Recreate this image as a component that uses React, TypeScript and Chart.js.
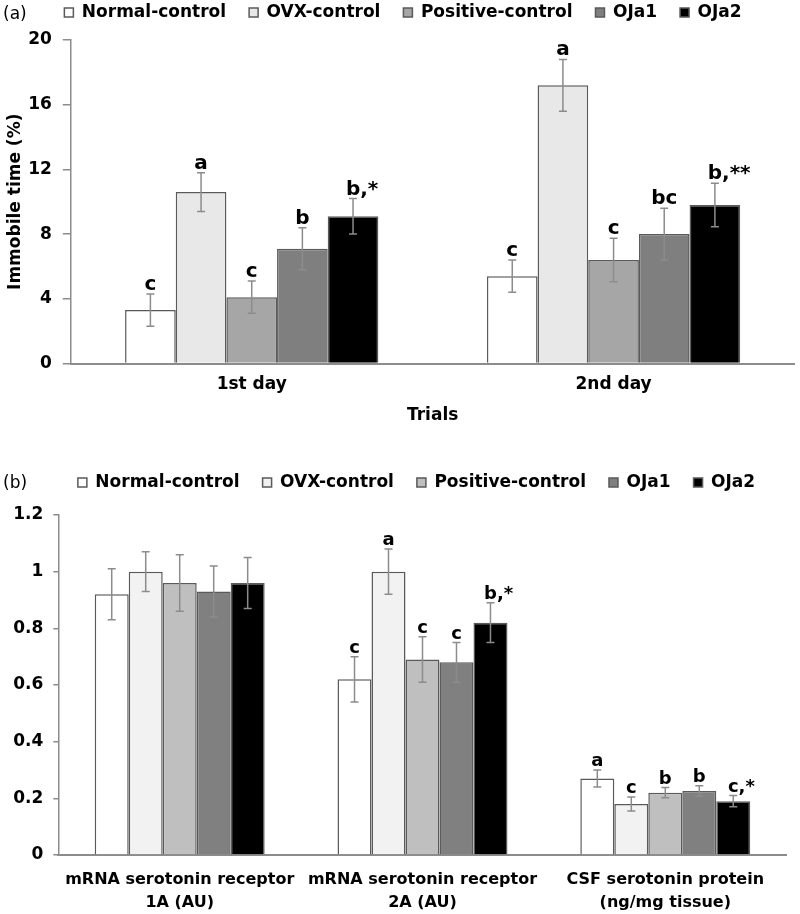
import React, { useEffect, useRef } from 'react';
import { Chart, registerables } from 'chart.js';
Chart.register(...registerables);

const FONT = "'DejaVu Sans', sans-serif";

// ---------- data ----------
const groupNames = ['Normal-control', 'OVX-control', 'Positive-control', 'OJa1', 'OJa2'];

// Panel (a)
const trialCategories = ['1st day', '2nd day'];
const immobileNormal = [3.3, 5.4];
const immobileOVX = [10.6, 17.2];
const immobilePositive = [4.1, 6.4];
const immobileOJa1 = [7.1, 8.0];
const immobileOJa2 = [9.1, 9.8];
const immobileErrNormal = [1.0, 1.0];
const immobileErrOVX = [1.2, 1.6];
const immobileErrPositive = [1.0, 1.35];
const immobileErrOJa1 = [1.3, 1.6];
const immobileErrOJa2 = [1.1, 1.35];
const immobileLetNormal = ['c', 'c'];
const immobileLetOVX = ['a', 'a'];
const immobileLetPositive = ['c', 'c'];
const immobileLetOJa1 = ['b', 'bc'];
const immobileLetOJa2 = ['b,*', 'b,**'];
const immobileTicks = { min: 0, max: 20, step: 4 };

// Panel (b)
const serotoninCategories = [
  ['mRNA serotonin receptor', '1A (AU)'],
  ['mRNA serotonin receptor', '2A (AU)'],
  ['CSF serotonin protein', '(ng/mg tissue)'],
];
const serNormal = [0.92, 0.62, 0.27];
const serOVX = [1.0, 1.0, 0.18];
const serPositive = [0.96, 0.69, 0.22];
const serOJa1 = [0.93, 0.68, 0.226];
const serOJa2 = [0.96, 0.82, 0.19];
const serErrNormal = [0.09, 0.08, 0.03];
const serErrOVX = [0.07, 0.08, 0.025];
const serErrPositive = [0.1, 0.08, 0.018];
const serErrOJa1 = [0.09, 0.07, 0.018];
const serErrOJa2 = [0.09, 0.07, 0.02];
const serLetNormal = ['', 'c', 'a'];
const serLetOVX = ['', 'a', 'c'];
const serLetPositive = ['', 'c', 'b'];
const serLetOJa1 = ['', 'c', 'b'];
const serLetOJa2 = ['', 'b,*', 'c,*'];
const serTicks = { min: 0, max: 1.2, step: 0.2 };

const colorsA = ['#ffffff', '#e8e8e8', '#a6a6a6', '#7f7f7f', '#000000'];
const colorsB = ['#ffffff', '#f2f2f2', '#bfbfbf', '#808080', '#000000'];

// ---------- plugin: error bars + letters ----------
const errorBarPlugin = {
  id: 'errorBars',
  afterDatasetsDraw(chart: any, _args: any, opts: any) {
    const ctx = chart.ctx;
    const yScale = chart.scales.y;
    chart.data.datasets.forEach((ds: any, i: number) => {
      const meta = chart.getDatasetMeta(i);
      meta.data.forEach((bar: any, j: number) => {
        const v = ds.data[j];
        const e = ds.errors[j];
        const yt = yScale.getPixelForValue(v + e);
        const yb = yScale.getPixelForValue(v - e);
        ctx.save();
        ctx.strokeStyle = '#8c8c8c';
        ctx.lineWidth = 1.5;
        ctx.beginPath();
        ctx.moveTo(bar.x, yt);
        ctx.lineTo(bar.x, yb);
        ctx.moveTo(bar.x - 4, yt);
        ctx.lineTo(bar.x + 4, yt);
        ctx.moveTo(bar.x - 4, yb);
        ctx.lineTo(bar.x + 4, yb);
        ctx.stroke();
        const letter: string = ds.letters[j];
        if (letter) {
          ctx.fillStyle = '#000';
          ctx.font = `bold ${opts.letterSize}px ${FONT}`;
          ctx.textBaseline = 'alphabetic';
          ctx.textAlign = 'left';
          const main = letter.split(',')[0];
          const w0 = ctx.measureText(main).width;
          ctx.fillText(letter, bar.x - w0 / 2, yt - 4);
        }
        ctx.restore();
      });
    });
  },
};

// sets the legend box height so that the plot starts at the wanted distance below it
const legendHeightPlugin = (h: number) => ({
  id: 'legendHeight',
  beforeInit(chart: any) {
    const legend = chart.legend;
    if (!legend) return;
    const fit = legend.fit;
    legend.fit = function () {
      fit.call(this);
      this.height = h;
    };
  },
});

function makeDatasets(values: number[][], errors: number[][], letters: string[][], colors: string[]) {
  return groupNames.map((name, i) => ({
    label: name,
    data: values[i],
    errors: errors[i],
    letters: letters[i],
    backgroundColor: colors[i],
    borderColor: '#5a5a5a',
    borderWidth: 1.5,
    categoryPercentage: 0.7,
    barPercentage: 1.0,
  }));
}

const tickFont = { family: FONT, size: 17, weight: 'bold' as const };

// Page geometry
const A_TOP = -19;
const A_PLOT_TOP = 40;
const A_PLOT_BOTTOM = 363.5;
const A_BOTTOM = 440;
const A_WIDTH = 806;
const B_TOP = 451;
const B_PLOT_TOP = 515;
const B_PLOT_BOTTOM = 855;
const B_BOTTOM = 914;
const B_WIDTH = 833;

function ChartA() {
  const ref = useRef<HTMLCanvasElement>(null);
  useEffect(() => {
    const chart = new Chart(ref.current!, {
      type: 'bar',
      data: {
        labels: trialCategories,
        datasets: makeDatasets(
          [immobileNormal, immobileOVX, immobilePositive, immobileOJa1, immobileOJa2],
          [immobileErrNormal, immobileErrOVX, immobileErrPositive, immobileErrOJa1, immobileErrOJa2],
          [immobileLetNormal, immobileLetOVX, immobileLetPositive, immobileLetOJa1, immobileLetOJa2],
          colorsA
        ) as any,
      },
      options: {
        animation: false,
        responsive: true,
        maintainAspectRatio: false,
        layout: { padding: 0 },
        plugins: {
          legend: {
            position: 'top',
            labels: { font: tickFont, color: '#000', boxWidth: 9, boxHeight: 9, padding: 23 },
          },
          tooltip: { enabled: false },
          errorBars: { letterSize: 20 },
        } as any,
        scales: {
          x: {
            grid: { display: false, drawTicks: false },
            border: { display: true, color: '#8c8c8c', width: 2 },
            ticks: { font: tickFont, color: '#000', padding: 11, maxRotation: 0, autoSkip: false },
            title: { display: true, text: 'Trials', font: tickFont, color: '#000', padding: { top: 0, bottom: 14 } },
            afterFit: (s: any) => {
              s.height = A_BOTTOM - A_PLOT_BOTTOM;
              s.paddingRight = A_WIDTH - 794.5;
              s.paddingLeft = 0;
            },
          },
          y: {
            min: immobileTicks.min,
            max: immobileTicks.max,
            ticks: { stepSize: immobileTicks.step, font: tickFont, color: '#000', padding: 11 },
            grid: { display: true, drawOnChartArea: false, drawTicks: true, tickLength: 8, color: '#8c8c8c', lineWidth: 1.5 },
            border: { display: true, color: '#8c8c8c', width: 1.5 },
            title: { display: true, text: 'Immobile time (%)', font: tickFont, color: '#000', padding: { top: 5, bottom: 0 } },
            afterFit: (s: any) => {
              s.width = 70.8;
              s.paddingTop = 0;
            },
          },
        },
      },
      plugins: [errorBarPlugin, legendHeightPlugin(A_PLOT_TOP - A_TOP)],
    });
    return () => chart.destroy();
  }, []);
  return (
    <div style={{ position: 'absolute', left: 0, top: A_TOP, width: A_WIDTH, height: A_BOTTOM - A_TOP }}>
      <canvas ref={ref} />
    </div>
  );
}

function ChartB() {
  const ref = useRef<HTMLCanvasElement>(null);
  useEffect(() => {
    const chart = new Chart(ref.current!, {
      type: 'bar',
      data: {
        labels: serotoninCategories as any,
        datasets: makeDatasets(
          [serNormal, serOVX, serPositive, serOJa1, serOJa2],
          [serErrNormal, serErrOVX, serErrPositive, serErrOJa1, serErrOJa2],
          [serLetNormal, serLetOVX, serLetPositive, serLetOJa1, serLetOJa2],
          colorsB
        ) as any,
      },
      options: {
        animation: false,
        responsive: true,
        maintainAspectRatio: false,
        layout: { padding: 0 },
        plugins: {
          legend: {
            position: 'top',
            labels: { font: tickFont, color: '#000', boxWidth: 9, boxHeight: 9, padding: 23 },
          },
          tooltip: { enabled: false },
          errorBars: { letterSize: 18 },
        } as any,
        scales: {
          x: {
            grid: { display: false, drawTicks: false },
            border: { display: true, color: '#8c8c8c', width: 2 },
            ticks: {
              font: { family: FONT, size: 16, weight: 'bold', lineHeight: 1.4 },
              color: '#000',
              padding: 14,
              maxRotation: 0,
              autoSkip: false,
            },
            afterFit: (s: any) => {
              s.height = B_BOTTOM - B_PLOT_BOTTOM;
              s.paddingRight = B_WIDTH - 786.7;
              s.paddingLeft = 0;
            },
          },
          y: {
            min: serTicks.min,
            max: serTicks.max,
            ticks: {
              stepSize: serTicks.step,
              font: tickFont,
              color: '#000',
              padding: 10,
              callback: (v: any) => String(Math.round(Number(v) * 10) / 10),
            },
            grid: { display: true, drawOnChartArea: false, drawTicks: true, tickLength: 5, color: '#8c8c8c', lineWidth: 1.5 },
            border: { display: true, color: '#8c8c8c', width: 1.5 },
            afterFit: (s: any) => {
              s.width = 58.3;
              s.paddingTop = 0;
            },
          },
        },
      },
      plugins: [errorBarPlugin, legendHeightPlugin(B_PLOT_TOP - B_TOP)],
    });
    return () => chart.destroy();
  }, []);
  return (
    <div style={{ position: 'absolute', left: 0, top: B_TOP, width: B_WIDTH, height: B_BOTTOM - B_TOP }}>
      <canvas ref={ref} />
    </div>
  );
}

export default function App() {
  const panelLabel: React.CSSProperties = {
    position: 'absolute',
    left: 3,
    fontFamily: FONT,
    fontSize: 17,
    lineHeight: '20px',
    color: '#000',
  };
  return (
    <div style={{ position: 'absolute', left: 0, top: 0, width: 800, height: 914, overflow: 'hidden', background: '#fff' }}>
      <ChartA />
      <ChartB />
      <div style={{ ...panelLabel, top: 3 }}>(a)</div>
      <div style={{ ...panelLabel, top: 472 }}>(b)</div>
    </div>
  );
}
